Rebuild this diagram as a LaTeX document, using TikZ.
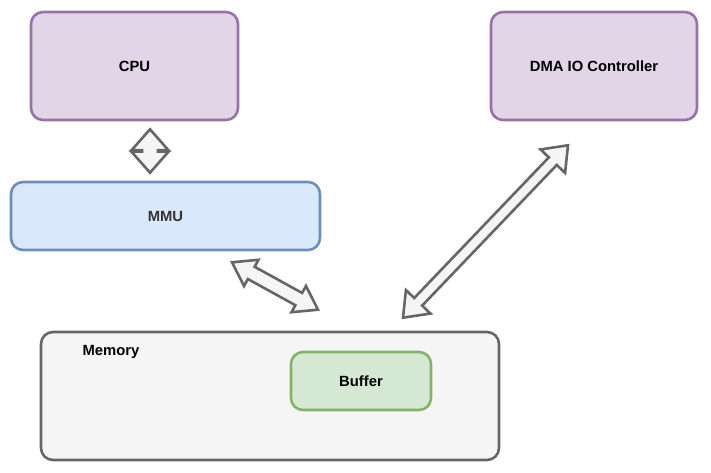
\documentclass[tikz,border=0pt]{standalone}
\usepackage{fontspec}
\setmainfont{Liberation Sans}
\usetikzlibrary{calc}

\definecolor{purplefill}{HTML}{E1D5E7}
\definecolor{purpleline}{HTML}{9673A6}
\definecolor{bluefill}{HTML}{DAE8FC}
\definecolor{blueline}{HTML}{6C8EBF}
\definecolor{grayfill}{HTML}{F5F5F5}
\definecolor{grayline}{HTML}{666666}
\definecolor{greenfill}{HTML}{D5E8D4}
\definecolor{greenline}{HTML}{82B366}

\tikzset{
  unit/.style={draw, rounded corners=12pt, line width=2.6pt,
    font=\bfseries\fontsize{14.8}{17}\selectfont},
  flexarrow/.style={fill=grayfill, draw=grayline, line width=2.6pt, line join=miter},
}

% block arrow: from, to, shaft half width, head half width, head length
\newcommand{\dblarrow}[5]{%
  \filldraw[flexarrow] (#1)
    -- ($(#1)!#5!(#2)!#4!90:(#2)$)
    -- ($(#1)!#5!(#2)!#3!90:(#2)$)
    -- ($(#2)!#5!(#1)!#3!-90:(#1)$)
    -- ($(#2)!#5!(#1)!#4!-90:(#1)$)
    -- (#2)
    -- ($(#2)!#5!(#1)!#4!90:(#1)$)
    -- ($(#2)!#5!(#1)!#3!90:(#1)$)
    -- ($(#1)!#5!(#2)!#3!-90:(#2)$)
    -- ($(#1)!#5!(#2)!#4!-90:(#2)$)
    -- cycle;}

\begin{document}
\begin{tikzpicture}[x=1pt, y=-1pt]
    \useasboundingbox (0,0) rectangle (711,473);

    % Units
    \node[unit, fill=purplefill, draw=purpleline, minimum width=207, minimum height=108] (cpu) at (134.5,66) {CPU};
    \node[unit, fill=purplefill, draw=purpleline, minimum width=206, minimum height=108] (dma) at (594,66) {DMA IO Controller};
    \node[unit, fill=bluefill, draw=blueline, minimum width=309, minimum height=68, text=black!80] (mmu) at (165.5,216) {MMU};

    % Memory with buffer
    \node[unit, fill=grayfill, draw=grayline, minimum width=458, minimum height=128] (memory) at (270,396) {};
    \node[font=\bfseries\fontsize{14.8}{17}\selectfont] (memlabel) at (111,352) {Memory};
    \node[unit, fill=greenfill, draw=greenline, minimum width=140, minimum height=58] (buffer) at (361,381) {Buffer};

    % Arrow end points
    \coordinate (cpuTip) at ($(cpu.south)+(15.5,8)$);
    \coordinate (mmuTop) at ($(mmu.north)+(-15.5,-8)$);
    \coordinate (mmuTip) at ($(mmu.south)+(66.5,11)$);
    \coordinate (memLeft) at ($(memory.north)+(48,-21)$);
    \coordinate (dmaTip) at ($(dma.south)+(-26,24)$);
    \coordinate (memRight) at ($(memory.north)+(133,-13)$);

    % Block arrows
    \dblarrow{cpuTip}{mmuTop}{8pt}{18.5pt}{21pt}
    \dblarrow{mmuTip}{memLeft}{7pt}{15pt}{22pt}
    \dblarrow{dmaTip}{memRight}{5.5pt}{17pt}{22pt}

\end{tikzpicture}
\end{document}
